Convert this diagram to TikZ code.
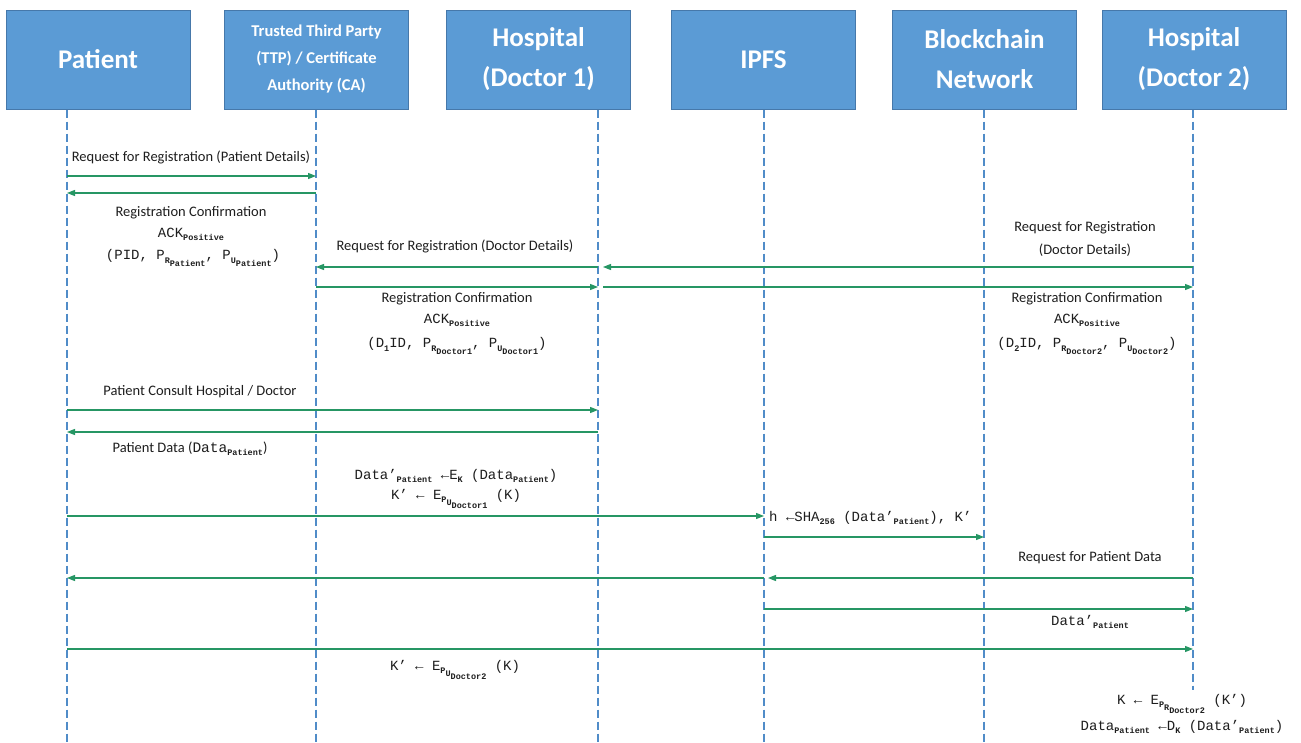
\documentclass[tikz,border=0pt]{standalone}
\usepackage{fontspec}
\setmainfont{Carlito}
\newfontfamily\monof{Liberation Mono}
\usetikzlibrary{arrows.meta,calc}
\definecolor{boxblue}{RGB}{91,155,213}
\definecolor{boxedge}{RGB}{70,120,170}
\definecolor{msggreen}{RGB}{38,150,100}
\definecolor{lifeblue}{RGB}{80,140,200}
\definecolor{txt}{RGB}{30,30,30}
\newcommand{\lo}[1]{\raisebox{-3.2pt}{\fontsize{8.5}{8.5}\selectfont\bfseries #1}}
\begin{document}
\begin{tikzpicture}[x=1pt,y=-1pt,
 actor/.style={draw=boxedge, fill=boxblue, line width=0.8pt, text=white,
   font=\fontsize{27}{40}\selectfont\bfseries, align=center,
   minimum height=99pt, minimum width=184pt, inner sep=0},
 small/.style={font=\fontsize{16.5}{27}\selectfont\bfseries},
 lifeline/.style={draw=lifeblue, line width=1.4pt, dash pattern=on 8pt off 4pt},
 msg/.style={draw=msggreen, line width=1.2pt, -{Triangle[length=8pt,width=6pt]}},
 lbl/.style={font=\fontsize{14.5}{22.5}\selectfont, text=txt, align=center, inner sep=0},
 frm/.style={font=\monof\fontsize{14}{22.5}\selectfont, text=txt, align=center, inner sep=0},
]
\useasboundingbox (0,0) rectangle (1301,742);
\fill[white] (0,0) rectangle (1301,742);

% actors
\node[actor] (pat) at (98,59.5) {Patient};
\node[actor,small] (ttp) at (316.5,59.5) {Trusted Third Party\\(TTP) / Certificate\\Authority (CA)};
\node[actor] (hd1) at (538.5,59.5) {Hospital\\(Doctor 1)};
\node[actor] (ipfs) at (763.5,59.5) {IPFS};
\node[actor] (bc) at (984.5,59.5) {Blockchain\\Network};
\node[actor] (hd2) at (1194,59.5) {Hospital\\(Doctor 2)};

% lifeline tops and ends
\coordinate (lpat) at (67,109.5);
\coordinate (lttp) at (316,109.5);
\coordinate (ld1) at (598,109.5);
\coordinate (lipfs) at (764,109.5);
\coordinate (lbc) at (984,109.5);
\coordinate (ld2) at (1193,109.5);
\coordinate (bot) at (0,742);
\coordinate (bot2) at (0,690);

\draw[lifeline] (lpat) -- (lpat |- bot);
\draw[lifeline] (lttp) -- (lttp |- bot);
\draw[lifeline] (ld1) -- (ld1 |- bot);
\draw[lifeline] (lipfs) -- (lipfs |- bot);
\draw[lifeline] (lbc) -- (lbc |- bot);
\draw[lifeline] (ld2) -- (ld2 |- bot2);

% rows
\coordinate (r1) at (0,176);
\coordinate (r2) at (0,193);
\coordinate (r3) at (0,267);
\coordinate (r4) at (0,287);
\coordinate (r5) at (0,410);
\coordinate (r6) at (0,432);
\coordinate (r7) at (0,516);
\coordinate (r8) at (0,537);
\coordinate (r9) at (0,578);
\coordinate (r10) at (0,609);
\coordinate (r11) at (0,649);

% messages
\draw[msg] (lpat |- r1) -- (lttp |- r1);
\draw[msg] (lttp |- r2) -- (lpat |- r2);
\draw[msg] (ld1 |- r3) -- (lttp |- r3);
\draw[msg] (ld2 |- r3) -- ($(ld1 |- r3)+(5,0)$);
\draw[msg] (lttp |- r4) -- (ld1 |- r4);
\draw[msg] ($(ld1 |- r4)+(5,0)$) -- (ld2 |- r4);
\draw[msg] (lpat |- r5) -- (ld1 |- r5);
\draw[msg] (ld1 |- r6) -- (lpat |- r6);
\draw[msg] (lpat |- r7) -- (lipfs |- r7);
\draw[msg] (lipfs |- r8) -- (lbc |- r8);
\draw[msg] (ld2 |- r9) -- ($(lipfs |- r9)+(4,0)$);
\draw[msg] (lipfs |- r9) -- (lpat |- r9);
\draw[msg] (lipfs |- r10) -- (ld2 |- r10);
\draw[msg] (lpat |- r11) -- (ld2 |- r11);

% labels
\node[lbl] (t1) at (191,157) {Request for Registration (Patient Details)};
\node[lbl] (t2a) at (191,213) {Registration Confirmation};
\node[frm] (t2b) at (191,234) {ACK\lo{Positive}};
\node[frm] (t2c) at (193,258) {(PID, P\lo{R\lo{Patient}}, P\lo{U\lo{Patient}})};
\node[lbl] (t3) at (455,246) {Request for Registration (Doctor Details)};
\node[lbl] (t4) at (1085,239) {Request for Registration\\(Doctor Details)};
\node[lbl] (t5a) at (457,299) {Registration Confirmation};
\node[frm] (t5b) at (457,320) {ACK\lo{Positive}};
\node[frm] (t5c) at (457,346) {(D\lo{1}ID, P\lo{R\lo{Doctor1}}, P\lo{U\lo{Doctor1}})};
\node[lbl] (t6a) at (1087,299) {Registration Confirmation};
\node[frm] (t6b) at (1087,320) {ACK\lo{Positive}};
\node[frm] (t6c) at (1087,346) {(D\lo{2}ID, P\lo{R\lo{Doctor2}}, P\lo{U\lo{Doctor2}})};
\node[lbl] (t7) at (200,392) {Patient Consult Hospital / Doctor};
\node[lbl] (t8) at (190,449) {Patient Data ({\monof Data\lo{Patient}})};
\node[frm] (t9a) at (456,476) {Data’\lo{Patient} ←E\lo{K} (Data\lo{Patient})};
\node[frm] (t9b) at (456,499) {K’ ← E\lo{P\lo{U\lo{Doctor1}}} (K)};
\node[frm,anchor=west] (t10) at (769,518) {h ←SHA\lo{256} (Data’\lo{Patient}), K’};
\node[lbl] (t11) at (1090,558) {Request for Patient Data};
\node[frm] (t12) at (1090,622) {Data’\lo{Patient}};
\node[frm] (t13) at (455,670) {K’ ← E\lo{P\lo{U\lo{Doctor2}}} (K)};
\node[frm] (t14a) at (1182,704) {K ← E\lo{P\lo{R\lo{Doctor2}}} (K’)};
\node[frm] (t14b) at (1182,727) {Data\lo{Patient} ←D\lo{K} (Data’\lo{Patient})};
\end{tikzpicture}
\end{document}
